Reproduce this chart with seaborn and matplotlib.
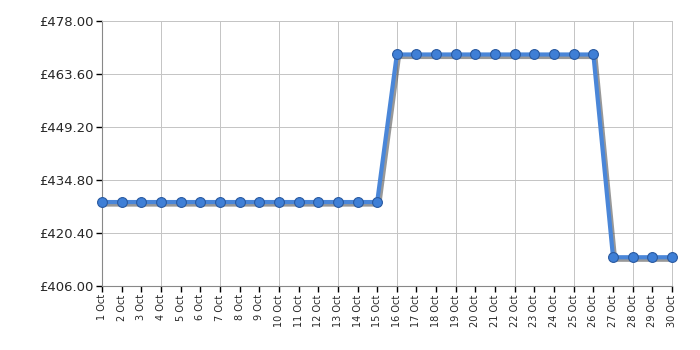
import matplotlib
matplotlib.use("Agg")
import matplotlib.pyplot as plt
import matplotlib.patheffects as pe
import seaborn as sns
import pandas as pd
import numpy as np

days = [f"{d} Oct" for d in range(1, 31)]
prices = [428.8] * 15 + [468.9] * 11 + [413.8] * 4
yticks = [406.0, 420.4, 434.8, 449.2, 463.6, 478.0]

df = pd.DataFrame({"idx": range(len(days)), "price": prices})

sns.set_style("white")
fig = plt.figure(figsize=(7, 3.5), dpi=100)
ax = fig.add_axes([0.1457, 0.183, 0.8143, 0.757])

shadow = [pe.SimpleLineShadow(offset=(1.5, -1.8), shadow_color="#444444", alpha=0.55), pe.Normal()]
sns.lineplot(data=df, x="idx", y="price", ax=ax, color="#4a86d8", linewidth=3,
             path_effects=shadow)
pts = sns.scatterplot(data=df, x="idx", y="price", ax=ax, color="#3f7fd6", s=50,
                      edgecolor="#2a5aa0", linewidth=0.8, zorder=5, clip_on=False)
for c in ax.collections:
    c.set_clip_on(False)

ax.set_xlim(0, 29)
ax.set_ylim(406, 478)
ax.set_yticks(yticks)
ax.set_yticklabels([f"£{v:.2f}" for v in yticks], fontsize=9.5)
ax.set_xticks(range(len(days)))
ax.set_xticklabels(days, rotation=90, fontsize=7)
ax.set_xlabel("")
ax.set_ylabel("")
ax.grid(True, color="#c4c4c4", linewidth=0.7)
ax.set_axisbelow(True)
for i, t in enumerate(ax.xaxis.get_major_ticks()):
    if i % 3 != 0:
        t.tick1line.set_visible(False)
        t.gridline.set_visible(False)
ax.tick_params(axis="both", length=4, width=1, color="black", pad=2, bottom=True, left=True)
for s in ["left", "bottom"]:
    ax.spines[s].set_color("#888888")
for s in ["top", "right"]:
    ax.spines[s].set_color("#c4c4c4")
    ax.spines[s].set_linewidth(0.7)

fig.savefig("out.png", dpi=100)
